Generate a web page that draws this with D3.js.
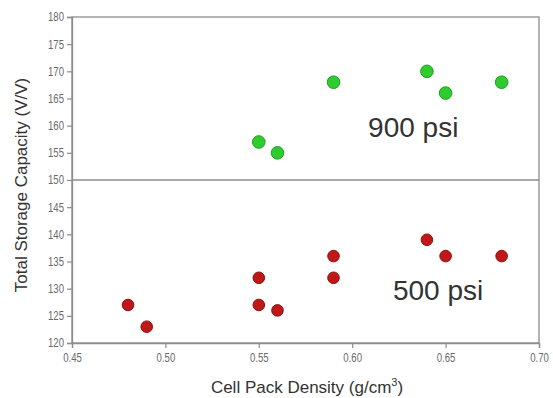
<!DOCTYPE html>
<html>
<head>
<meta charset="utf-8">
<script src="https://cdn.jsdelivr.net/npm/d3@7"></script>
<style>
  body { margin: 0; background: #fff; }
  svg { display: block; font-family: "Liberation Sans", Arial, sans-serif; }
</style>
</head>
<body>
<svg id="chart" width="553" height="398"></svg>
<script>
// data
var density900 = [0.55, 0.56, 0.59, 0.64, 0.65, 0.68];
var capacity900 = [157, 155, 168, 170, 166, 168];
var density500 = [0.48, 0.49, 0.55, 0.55, 0.56, 0.59, 0.59, 0.64, 0.65, 0.68];
var capacity500 = [127, 123, 132, 127, 126, 136, 132, 139, 136, 136];
var xTicks = [0.45, 0.50, 0.55, 0.60, 0.65, 0.70];
var yTicks = [120, 125, 130, 135, 140, 145, 150, 155, 160, 165, 170, 175, 180];
var splitAt = 150;

var margin = { top: 17, right: 14, bottom: 55, left: 72 },
  width = 553 - margin.left - margin.right,
  height = 398 - margin.top - margin.bottom;

var svg = d3.select("#chart");
var g = svg.append("g")
  .attr("transform", "translate(" + margin.left + "," + margin.top + ")");

var x = d3.scaleLinear().domain([0.45, 0.70]).range([0, width]);
var y = d3.scaleLinear().domain([120, 180]).range([height, 0]);

var axisColor = "#8c8c8c";

// frame
g.append("rect")
  .attr("width", width)
  .attr("height", height)
  .attr("fill", "none")
  .attr("stroke", axisColor)
  .attr("stroke-width", 1.3);

// line between the two pressure panels
g.append("line")
  .attr("x1", 0).attr("x2", width)
  .attr("y1", y(splitAt)).attr("y2", y(splitAt))
  .attr("stroke", axisColor)
  .attr("stroke-width", 1.3);

// axes
var xAxis = g.append("g")
  .attr("transform", "translate(0," + height + ")")
  .call(d3.axisBottom(x).tickValues(xTicks).tickFormat(d3.format(".2f")).tickSize(5).tickPadding(5));

var yAxis = g.append("g")
  .call(d3.axisLeft(y).tickValues(yTicks).tickFormat(d3.format("d")).tickSize(5).tickPadding(5));

[xAxis, yAxis].forEach(function (ax) {
  ax.select(".domain").attr("stroke", axisColor).attr("stroke-width", 1.3);
  ax.selectAll(".tick line").attr("stroke", axisColor).attr("stroke-width", 1.2);
  ax.selectAll(".tick text")
    .attr("fill", "#6a6a6a")
    .style("font-size", "12px")
    .attr("transform", "scale(0.8,1)");
});

// points
g.append("g")
  .selectAll("circle")
  .data(density900)
  .enter()
  .append("circle")
  .attr("cx", function (d) { return x(d); })
  .attr("cy", function (d, i) { return y(capacity900[i]); })
  .attr("r", 6.3)
  .attr("fill", "#2fcc2f")
  .attr("stroke", "#1e9e1e")
  .attr("stroke-width", 1);

g.append("g")
  .selectAll("circle")
  .data(density500)
  .enter()
  .append("circle")
  .attr("cx", function (d) { return x(d); })
  .attr("cy", function (d, i) { return y(capacity500[i]); })
  .attr("r", 5.8)
  .attr("fill", "#c01818")
  .attr("stroke", "#8e1010")
  .attr("stroke-width", 1);

// panel labels
g.append("text")
  .attr("x", x(0.6085))
  .attr("y", y(157.9))
  .text("900 psi")
  .style("font-size", "28px")
  .attr("fill", "#333");

g.append("text")
  .attr("x", x(0.6218))
  .attr("y", y(127.9))
  .text("500 psi")
  .style("font-size", "28px")
  .attr("fill", "#333");

// axis titles
var xt = svg.append("text")
  .attr("x", 307)
  .attr("y", 393)
  .attr("text-anchor", "middle")
  .attr("fill", "#333")
  .style("font-size", "17px");
xt.append("tspan").text("Cell Pack Density (g/cm");
xt.append("tspan").text("3").attr("dy", -7).style("font-size", "11px");
xt.append("tspan").text(")").attr("dy", 7);

svg.append("text")
  .attr("transform", "translate(27,185) rotate(-90)")
  .attr("text-anchor", "middle")
  .attr("fill", "#333")
  .style("font-size", "17px")
  .text("Total Storage Capacity (V/V)");
</script>
</body>
</html>
